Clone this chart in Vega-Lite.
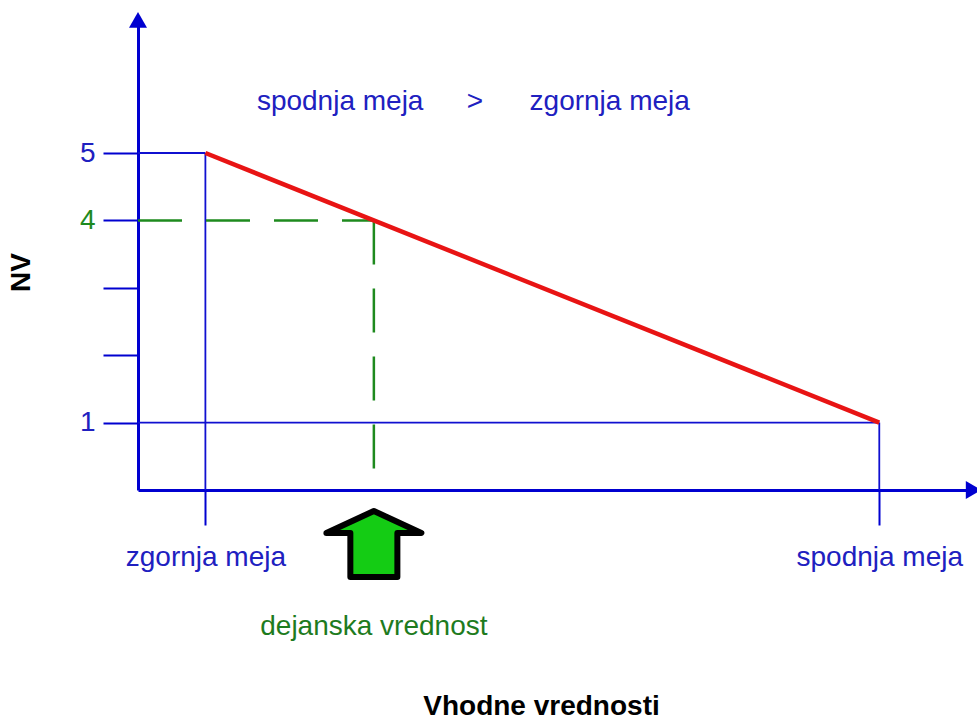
{
  "$schema": "https://vega.github.io/schema/vega-lite/v6.json",
  "width": 839,
  "height": 468,
  "autosize": {"type": "none"},
  "padding": {"left": 138, "top": 22, "right": 0, "bottom": 232},
  "background": "white",
  "config": {
    "view": {"stroke": null},
    "font": "Liberation Sans",
    "axis": {"grid": false, "labelFont": "Liberation Sans", "titleFont": "Liberation Sans"}
  },
  "encoding": {
    "x": {
      "field": "x", "type": "quantitative",
      "scale": {"domain": [0, 12.45], "nice": false, "zero": false},
      "axis": {
        "values": [1, 11],
        "labelExpr": "datum.value == 1 ? 'zgornja meja' : 'spodnja meja'",
        "tickSize": 35, "tickWidth": 2, "tickColor": "#0000d0",
        "domainColor": "#0000d0", "domainWidth": 3,
        "labelFontSize": 28, "labelColor": "#2020c0", "labelPadding": 18,
        "labelFlush": false, "labelOverlap": false,
        "title": "Vhodne vrednosti", "titleFontSize": 28, "titleFontWeight": "bold",
        "titleColor": "black", "titlePadding": 121, "titleX": 403
      }
    },
    "y": {
      "field": "y", "type": "quantitative",
      "scale": {"domain": [0, 6.944], "nice": false, "zero": false},
      "axis": {
        "values": [1, 2, 3, 4, 5],
        "labelExpr": "datum.value == 2 || datum.value == 3 ? '' : datum.label",
        "tickSize": 35, "tickWidth": 2, "tickColor": "#0000d0",
        "domainColor": "#0000d0", "domainWidth": 3,
        "labelFontSize": 28, "labelPadding": 8,
        "labelColor": {"condition": {"test": "datum.value == 4", "value": "#1e8a1e"}, "value": "#2020c0"},
        "title": "NV", "titleFontSize": 28, "titleFontWeight": "bold",
        "titleColor": "black", "titlePadding": 44, "titleY": 250
      }
    }
  },
  "layer": [
    {
      "data": {"values": [
        {"x": 0, "y": 5, "x2": 1, "y2": 5},
        {"x": 0, "y": 1, "x2": 11, "y2": 1},
        {"x": 1, "y": 5, "x2": 1, "y2": 0},
        {"x": 11, "y": 1, "x2": 11, "y2": 0}
      ]},
      "mark": {"type": "rule", "color": "#1010d0", "strokeWidth": 1.8},
      "encoding": {"x2": {"field": "x2"}, "y2": {"field": "y2"}}
    },
    {
      "data": {"values": [
        {"x": 0, "y": 4, "x2": 3.5, "y2": 4},
        {"x": 3.5, "y": 4, "x2": 3.5, "y2": 0.31}
      ]},
      "mark": {"type": "rule", "color": "#1e8a1e", "strokeWidth": 2.5, "strokeDash": [44, 24]},
      "encoding": {"x2": {"field": "x2"}, "y2": {"field": "y2"}}
    },
    {
      "data": {"values": [{"x": 1, "y": 5}, {"x": 11, "y": 1}]},
      "mark": {"type": "line", "color": "#e81414", "strokeWidth": 4.5},
      "encoding": {}
    },
    {
      "data": {"values": [{"x": 0, "y": 6.976}]},
      "mark": {"type": "point", "shape": "triangle-up", "filled": true, "size": 324, "color": "#0000d0", "opacity": 1},
      "encoding": {}
    },
    {
      "data": {"values": [{"x": 12.4, "y": 0}]},
      "mark": {"type": "point", "shape": "triangle-right", "filled": true, "size": 324, "color": "#0000d0", "opacity": 1},
      "encoding": {}
    },
    {
      "data": {"values": [{"x": 3.5, "y": -0.8}]},
      "mark": {
        "type": "point",
        "shape": "M0,-0.695 L1,-0.23 L0.495,-0.23 L0.495,0.695 L-0.495,0.695 L-0.495,-0.23 L-1,-0.23 Z",
        "size": 9025, "fill": "#14cc14", "fillOpacity": 1, "stroke": "black", "strokeWidth": 6,
        "strokeJoin": "round", "opacity": 1
      },
      "encoding": {}
    },
    {
      "data": {"values": [
        {"x": 3, "y": 5.75, "t": "spodnja meja"},
        {"x": 5, "y": 5.75, "t": ">"},
        {"x": 7, "y": 5.75, "t": "zgornja meja"}
      ]},
      "mark": {"type": "text", "fontSize": 28, "color": "#2020c0", "baseline": "middle", "align": "center"},
      "encoding": {"text": {"field": "t"}}
    },
    {
      "data": {"values": [{"x": 3.5, "y": -2.03, "t": "dejanska vrednost"}]},
      "mark": {"type": "text", "fontSize": 28, "color": "#1e7b1e", "baseline": "middle", "align": "center"},
      "encoding": {"text": {"field": "t"}}
    }
  ]
}
